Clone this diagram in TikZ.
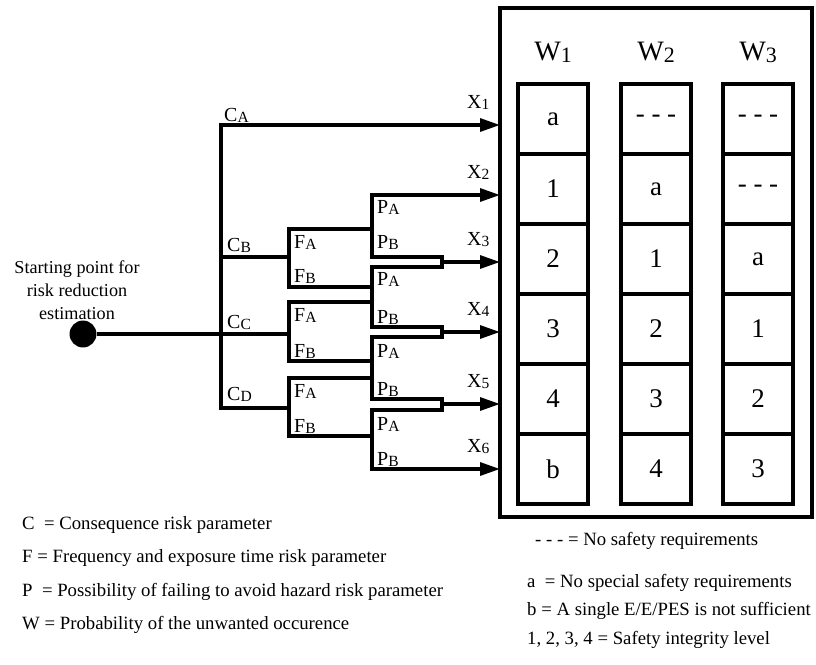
\documentclass[tikz,border=0pt]{standalone}
\usepackage{fontspec}
\setmainfont{Liberation Serif}
\usepackage{graphicx}
\usetikzlibrary{arrows.meta, positioning}

\newcommand{\idx}[2]{#1\raisebox{-0.2ex}{\scalebox{0.78}{#2}}}

\begin{document}
\begin{tikzpicture}[x=0.03cm, y=-0.03cm,
		>={Triangle[length=17pt, width=11pt]},
		line/.style={line width=2.8pt},
		lbl/.style={anchor=base west, inner sep=0pt, font=\fontsize{17}{19}\selectfont},
		cell/.style={draw, line width=3pt, minimum width=2.1cm, minimum height=2.1cm, inner sep=0pt, font=\fontsize{23}{26}\selectfont},
		whead/.style={anchor=base, inner sep=0pt, font=\fontsize{24}{26}\selectfont},
		legend/.style={anchor=base west, inner sep=0pt, font=\fontsize{16}{19}\selectfont}
		]
		\useasboundingbox (0,0) rectangle (816,664);
		
		% ----- Starting point -----
		\node[circle, fill, minimum size=23pt, inner sep=0pt] (start) at (83,334) {};
		\node[align=center, font=\fontsize{15.5}{19.6}\selectfont] (starttxt) at (77,290) {Starting point for\\risk reduction\\estimation};
		
		% Junction points
		\coordinate (cA) at (221,125);
		\coordinate (cB) at (221,257);
		\coordinate (cD) at (221,408);
		\coordinate (fB) at (289,257);
		\coordinate (fC) at (289,334);
		\coordinate (fD) at (289,408);
		\coordinate (fBa) at (289,229); \coordinate (fBb) at (289,287);
		\coordinate (fCa) at (289,302); \coordinate (fCb) at (289,361);
		\coordinate (fDa) at (289,378); \coordinate (fDb) at (289,436);
		\coordinate (p1t) at (372,195); \coordinate (p1b) at (372,257);
		\coordinate (p2t) at (372,267); \coordinate (p2b) at (372,327);
		\coordinate (p3t) at (372,337); \coordinate (p3b) at (372,399);
		\coordinate (p4t) at (372,410); \coordinate (p4b) at (372,469);
		\coordinate (j1) at (442,262);
		\coordinate (j2) at (442,332);
		\coordinate (j3) at (442,404);
		
		% Arrow ends on the W frame
		\coordinate (x1) at (500,125);
		\coordinate (x2) at (500,195);
		\coordinate (x3) at (500,262);
		\coordinate (x4) at (500,332);
		\coordinate (x5) at (500,404);
		\coordinate (x6) at (500,469);
		
		% ----- C branches -----
		\draw[line, ->] (fD) -- (cD) -- (cA) -- (x1);
		\draw[line] (cB) -- (fB);
		\draw[line] (start) -- (fC);
		
		% ----- F branches -----
		\draw[line] (fBa -| p1t) -- (fBa) -- (fBb) -- (fBb -| p2t);
		\draw[line] (fCa -| p2t) -- (fCa) -- (fCb) -- (fCb -| p3t);
		\draw[line] (fDa -| p3t) -- (fDa) -- (fDb) -- (fDb -| p4t);
		
		% ----- P branches -----
		\draw[line, <->] (x2) -- (p1t) -- (p1b) -- (p1b -| j1) -- (p2t -| j1) -- (p2t) -- (p2b) -- (p2b -| j2) -- (p3t -| j2) -- (p3t) -- (p3b) -- (p3b -| j3) -- (p4t -| j3) -- (p4t) -- (p4b) -- (x6);
		\draw[line, ->] (j1) -- (x3);
		\draw[line, ->] (j2) -- (x4);
		\draw[line, ->] (j3) -- (x5);
		
		% Branch labels
		\node[lbl] (lcA) at (224,121) {\idx{C}{A}};
		\node[lbl] (lcB) at (227,251) {\idx{C}{B}};
		\node[lbl] (lcC) at (227,328) {\idx{C}{C}};
		\node[lbl] (lcD) at (227,400) {\idx{C}{D}};
		\foreach \ya/\yb [count=\i] in {248/282, 321/357, 397/432} {
			\node[lbl] (lfa\i) at (294,\ya) {\idx{F}{A}};
			\node[lbl] (lfb\i) at (294,\yb) {\idx{F}{B}};
		}
		\foreach \ya/\yb [count=\i] in {213/248, 285/323, 357/395, 430/465} {
			\node[lbl] (lpa\i) at (377,\ya) {\idx{P}{A}};
			\node[lbl] (lpb\i) at (377,\yb) {\idx{P}{B}};
		}
		\foreach \y [count=\i] in {108,178,245,315,387,452}
			\node[lbl] (lx\i) at (467,\y) {\idx{X}{\i}};
		
		% ----- W table -----
		\draw[line] (500,8) rectangle (812,517);
		\node[whead] (w1) at (553,60) {\idx{W}{1}};
		\node[whead] (w2) at (656,60) {\idx{W}{2}};
		\node[whead] (w3) at (758,60) {\idx{W}{3}};
		\foreach \t [count=\r] in {a,1,2,3,4,b}
			\node[cell] (wa\r) at (553,49+70*\r) {\t};
		\foreach \t [count=\r] in {- - -,a,1,2,3,4}
			\node[cell] (wb\r) at (656,49+70*\r) {\t};
		\foreach \t [count=\r] in {- - -,- - -,a,1,2,3}
			\node[cell] (wc\r) at (758,49+70*\r) {\t};
		
		% ----- Legend -----
		\node[legend] (legC) at (22,529) {C~ = Consequence risk parameter};
		\node[legend] (legF) at (22,562) {F = Frequency and exposure time risk parameter};
		\node[legend] (legP) at (22,596) {P~ = Possibility of failing to avoid hazard risk parameter};
		\node[legend] (legW) at (22,629) {W = Probability of the unwanted occurence};
		\node[legend] (legN) at (535,545) {- - - = No safety requirements};
		\node[legend] (legA) at (527,587) {a~ = No special safety requirements};
		\node[legend] (legB) at (527,615) {b = A single E/E/PES is not sufficient};
		\node[legend] (legS) at (527,644) {1, 2, 3, 4 = Safety integrity level};
		
	\end{tikzpicture}
\end{document}
